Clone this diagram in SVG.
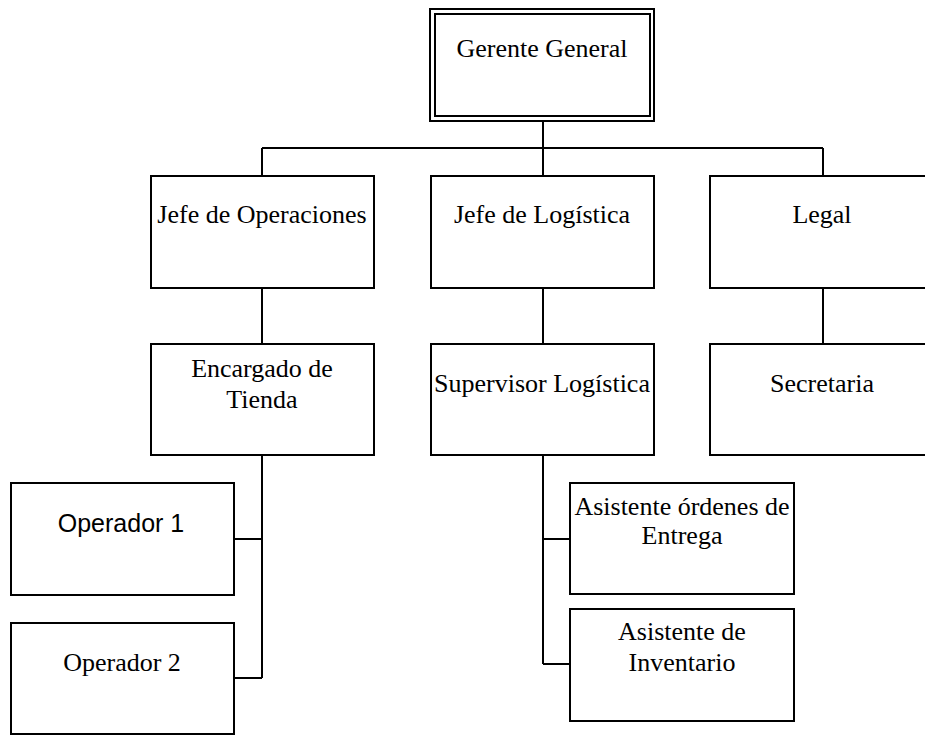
<svg xmlns="http://www.w3.org/2000/svg" width="925" height="735" viewBox="0 0 925 735">
<style>
.box{fill:#fff;stroke:#000;stroke-width:2}
.t{font-family:"Liberation Serif","Times New Roman",serif;font-size:26px;fill:#000;text-anchor:middle}
.s{font-family:"Liberation Sans",Arial,sans-serif;font-size:25px;fill:#000;text-anchor:middle}
.c{fill:none;stroke:#000;stroke-width:2}
</style>
<rect width="925" height="735" fill="#fff"/>
<g id="connectors">
<path class="c" d="M543 121V148M262 148H823M262 148V176M543 148V176M823 148V176"/>
<path class="c" d="M262 288V344M543 288V344M823 288V344"/>
<path class="c" d="M262 455V678M234 539H262M234 678H262"/>
<path class="c" d="M543 455V664M543 539H570M543 664H570"/>
</g>
<g id="gerente">
<rect class="box" x="430" y="9" width="224" height="112"/>
<rect class="box" x="435" y="14" width="215" height="102"/>
<text class="t" x="542" y="57">Gerente General</text>
</g>
<g id="jefe-operaciones">
<rect class="box" x="151" y="176" width="223" height="112"/>
<text class="t" x="262" y="223">Jefe de Operaciones</text>
</g>
<g id="jefe-logistica">
<rect class="box" x="431" y="176" width="223" height="112"/>
<text class="t" x="542" y="223">Jefe de Logística</text>
</g>
<g id="legal">
<rect class="box" x="710" y="176" width="223" height="112"/>
<text class="t" x="822" y="223">Legal</text>
</g>
<g id="encargado">
<rect class="box" x="151" y="344" width="223" height="111"/>
<text class="t" x="262" y="377">Encargado de</text>
<text class="t" x="262" y="408">Tienda</text>
</g>
<g id="supervisor">
<rect class="box" x="431" y="344" width="223" height="111"/>
<text class="t" x="542" y="392">Supervisor Logística</text>
</g>
<g id="secretaria">
<rect class="box" x="710" y="344" width="223" height="111"/>
<text class="t" x="822" y="392">Secretaria</text>
</g>
<g id="operador1">
<rect class="box" x="11" y="483" width="223" height="112"/>
<text class="s" x="121" y="532">Operador 1</text>
</g>
<g id="operador2">
<rect class="box" x="11" y="623" width="223" height="111"/>
<text class="t" x="122" y="671">Operador 2</text>
</g>
<g id="asistente-ordenes">
<rect class="box" x="570" y="483" width="224" height="111"/>
<text class="t" x="682" y="515">Asistente órdenes de</text>
<text class="t" x="682" y="544">Entrega</text>
</g>
<g id="asistente-inventario">
<rect class="box" x="570" y="609" width="224" height="112"/>
<text class="t" x="682" y="640">Asistente de</text>
<text class="t" x="682" y="671">Inventario</text>
</g>
</svg>
